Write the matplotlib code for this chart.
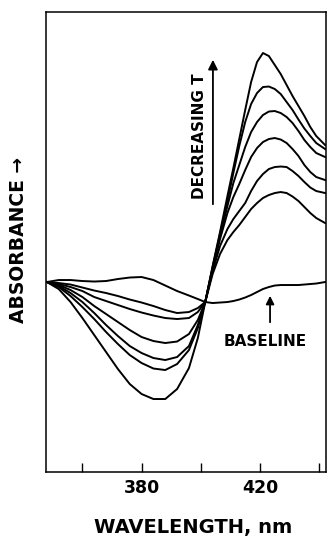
import matplotlib
matplotlib.use("Agg")
import matplotlib.pyplot as plt

# wavelength grid (nm) shared by all traces
wavelength = [348, 352, 356, 360, 364, 368, 372, 376, 380, 384, 388, 392, 396, 399, 401.5,
              404, 406.5, 409, 411, 413, 415, 417, 419, 421, 423, 425, 427, 429, 431, 433,
              435, 437, 439, 442]

# relative absorbance (arbitrary units, 0 = isosbestic point)
baseline = [0.20, 0.22, 0.22, 0.21, 0.205, 0.21, 0.23, 0.245, 0.25, 0.22, 0.165, 0.11, 0.065, 0.03, 0.00,
            -0.01, -0.005, 0.00, 0.01, 0.025, 0.045, 0.07, 0.10, 0.13, 0.15, 0.165, 0.17, 0.17, 0.17, 0.17,
            0.175, 0.18, 0.185, 0.20]

# spectra, highest temperature first
spec_1 = [0.20, 0.19, 0.175, 0.145, 0.115, 0.09, 0.06, 0.025, -0.005, -0.04, -0.08, -0.11, -0.10, -0.06, 0.00,
          0.28, 0.48, 0.62, 0.70, 0.77, 0.85, 0.93, 0.99, 1.04, 1.07, 1.09, 1.10, 1.09, 1.055, 1.01,
          0.95, 0.89, 0.84, 0.79]
spec_2 = [0.20, 0.18, 0.15, 0.11, 0.05, 0.01, -0.03, -0.07, -0.105, -0.135, -0.16, -0.17, -0.16, -0.10, 0.00,
          0.31, 0.56, 0.73, 0.83, 0.91, 0.99, 1.11, 1.21, 1.28, 1.33, 1.35, 1.355, 1.35, 1.31, 1.26,
          1.20, 1.145, 1.11, 1.09]
spec_3 = [0.20, 0.17, 0.12, 0.05, -0.04, -0.12, -0.20, -0.28, -0.35, -0.39, -0.41, -0.395, -0.32, -0.18, 0.00,
          0.33, 0.63, 0.89, 1.05, 1.18, 1.32, 1.45, 1.54, 1.60, 1.63, 1.64, 1.625, 1.59, 1.53, 1.46,
          1.37, 1.30, 1.25, 1.22]
spec_4 = [0.20, 0.16, 0.09, 0.00, -0.11, -0.23, -0.34, -0.44, -0.51, -0.56, -0.58, -0.55, -0.44, -0.23, 0.00,
          0.34, 0.66, 0.96, 1.19, 1.37, 1.55, 1.70, 1.80, 1.87, 1.905, 1.91, 1.89, 1.85, 1.79, 1.71,
          1.62, 1.55, 1.49, 1.45]
spec_5 = [0.20, 0.15, 0.06, -0.05, -0.17, -0.30, -0.42, -0.53, -0.61, -0.665, -0.68, -0.62, -0.48, -0.26, 0.00,
          0.35, 0.68, 1.01, 1.29, 1.56, 1.80, 1.98, 2.09, 2.15, 2.155, 2.13, 2.08, 2.00, 1.92, 1.825,
          1.735, 1.66, 1.59, 1.53]
spec_6 = [0.20, 0.13, 0.00, -0.16, -0.33, -0.50, -0.67, -0.82, -0.92, -0.97, -0.97, -0.87, -0.66, -0.36, 0.00,
          0.36, 0.70, 1.06, 1.34, 1.63, 1.92, 2.20, 2.40, 2.49, 2.46, 2.37, 2.28, 2.17, 2.06, 1.96,
          1.86, 1.75, 1.66, 1.57]

tick_positions = [360, 380, 400, 420, 440]
tick_labels = ['', '380', '', '420', '']

fig = plt.figure(figsize=(3.28, 5.37), dpi=100)
ax = fig.add_axes([0.1402, 0.1210, 0.8537, 0.8566])

lw = 1.4
ax.plot(wavelength, baseline, color='black', lw=lw)
for spec in [spec_1, spec_2, spec_3, spec_4, spec_5, spec_6]:
    ax.plot(wavelength, spec, color='black', lw=lw)

ax.set_xlim(347.7, 442.3)
ax.set_ylim(-1.70, 2.90)

ax.set_xticks(tick_positions)
ax.set_xticklabels(tick_labels, fontweight='bold')
ax.tick_params(axis='x', direction='in', length=6.5, width=1.0, pad=5, labelsize=12.5)
ax.set_yticks([])
for s in ax.spines.values():
    s.set_linewidth(1.1)

ax.set_xlabel('WAVELENGTH, nm', fontsize=14, fontweight='bold', va='baseline')
ax.xaxis.set_label_coords(0.525, -0.1326)
ax.set_ylabel('ABSORBANCE \u2192', fontsize=13.5, fontweight='bold', va='center')
ax.yaxis.set_label_coords(-0.0986, 0.504)

# decreasing temperature arrow
ax.annotate('', xy=(404.1, 2.45), xytext=(404.1, 0.95),
            arrowprops=dict(arrowstyle='-|>', color='black', lw=1.3, mutation_scale=14))
ax.text(399.4, 1.66, 'DECREASING T', rotation=90, ha='center', va='center',
        fontsize=11, fontweight='bold')

# baseline label
ax.annotate('', xy=(423.4, 0.09), xytext=(423.4, -0.23),
            arrowprops=dict(arrowstyle='-|>', color='black', lw=1.3, mutation_scale=12))
ax.text(421.7, -0.395, 'BASELINE', ha='center', va='center', fontsize=11, fontweight='bold')

fig.savefig('out.png', dpi=100)
